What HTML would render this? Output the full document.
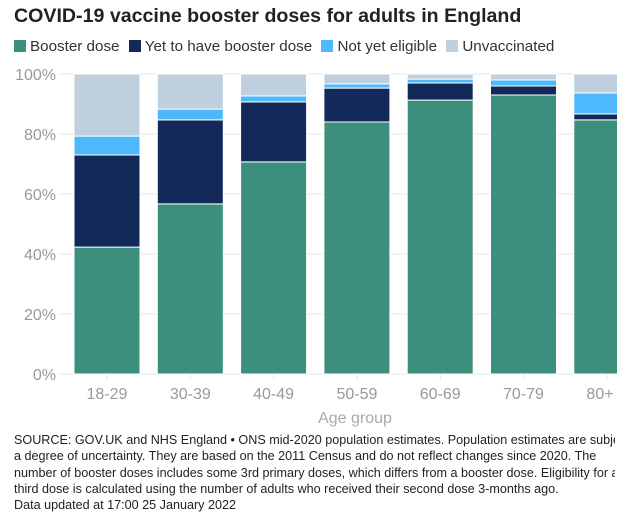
<!DOCTYPE html>
<html><head><meta charset="utf-8"><style>
body{margin:0;background:#fff;width:641px;height:524px;overflow:hidden;font-family:"Liberation Sans",sans-serif}
#title{position:absolute;left:14px;top:5px;font-size:19.6px;font-weight:bold;color:#222}
#legend{position:absolute;left:14px;top:38px;font-size:15.2px;color:#333;white-space:nowrap}
.li{display:inline-block;margin-right:5px}
.sw{display:inline-block;width:12px;height:12px;margin-right:4px;vertical-align:-1px}
#foot{position:absolute;left:14px;top:432px;font-size:12.6px;line-height:16.3px;color:#222;white-space:nowrap;width:601px;overflow:hidden}
</style></head><body>
<div id="title">COVID-19 vaccine booster doses for adults in England</div>
<div id="legend">
<span class="li"><span class="sw" style="background:#3d8f7d"></span>Booster dose</span>
<span class="li"><span class="sw" style="background:#12295a"></span>Yet to have booster dose</span>
<span class="li"><span class="sw" style="background:#4db8fc"></span>Not yet eligible</span>
<span class="li"><span class="sw" style="background:#bfcfdd"></span>Unvaccinated</span>
</div>
<svg id="chart" width="641" height="430" style="position:absolute;left:0;top:0">
<defs><clipPath id="cp"><rect x="0" y="0" width="617" height="430"/></clipPath></defs>
<g id="bars" clip-path="url(#cp)"></g>
</svg>
<div id="foot">SOURCE: GOV.UK and NHS England • ONS mid-2020 population estimates. Population estimates are subject to<br>a degree of uncertainty. They are based on the 2011 Census and do not reflect changes since 2020. The<br>number of booster doses includes some 3rd primary doses, which differs from a booster dose. Eligibility for a<br>third dose is calculated using the number of adults who received their second dose 3-months ago.<br>Data updated at 17:00 25 January 2022</div>
<script>
const categories=["18-29","30-39","40-49","50-59","60-69","70-79","80+"];
const booster=[42.3,56.7,70.7,84,91.3,93,84.7];
const yetToHave=[30.7,28,20,11.3,5.7,3,2];
const notEligible=[6.3,3.6,2,1.4,1.3,2,7];
const unvaccinated=[20.7,11.7,7.3,3.3,1.7,2,6.3];
const yTicks=[0,20,40,60,80,100];
const seriesList=[["booster",booster,"#3d8f7d"],["yet-to-have",yetToHave,"#12295a"],["not-eligible",notEligible,"#4db8fc"],["unvaccinated",unvaccinated,"#bfcfdd"]];
const NS="http://www.w3.org/2000/svg";
const svg=document.getElementById("chart");
const bars=document.getElementById("bars");
const y=v=>374-v*3;
const band=83.3,left=65.5;
const x=i=>left+i*band+8.5;
const bw=66;
function mk(t,a,p){const e=document.createElementNS(NS,t);for(const k in a)e.setAttribute(k,a[k]);(p||svg).appendChild(e);return e;}
yTicks.forEach(t=>{
 const l=mk("line",{x1:60,x2:617,y1:y(t),y2:y(t),stroke:"#e6e6e6","stroke-width":1},bars);
 
 
 const tx=mk("text",{x:56,y:y(t)+6,"text-anchor":"end","font-size":16,fill:"#999","font-family":"Liberation Sans, sans-serif"});
 tx.textContent=t+"%";
 
 
});
categories.forEach((c,i)=>{
 let acc=0;
 seriesList.forEach(([n,arr,col])=>{
  const v=arr[i];
  const r=mk("rect",{x:x(i),y:y(acc+v),width:bw,height:v*3,fill:col,stroke:"#fff","stroke-width":1},bars);
  
  
  acc+=v;
 });
 const tk=mk("line",{x1:x(i)+bw/2,x2:x(i)+bw/2,y1:374,y2:380,stroke:"#e6e6e6"});
 
 
 const tx=mk("text",{x:Math.min(x(i)+bw/2,600),y:399,"text-anchor":"middle","font-size":16,fill:"#999","font-family":"Liberation Sans, sans-serif"});
 tx.textContent=c;
 
 
});
const xt=mk("text",{x:355,y:423,"text-anchor":"middle","font-size":16,fill:"#aaa","font-family":"Liberation Sans, sans-serif"});
xt.textContent="Age group";


</script>
</body></html>
